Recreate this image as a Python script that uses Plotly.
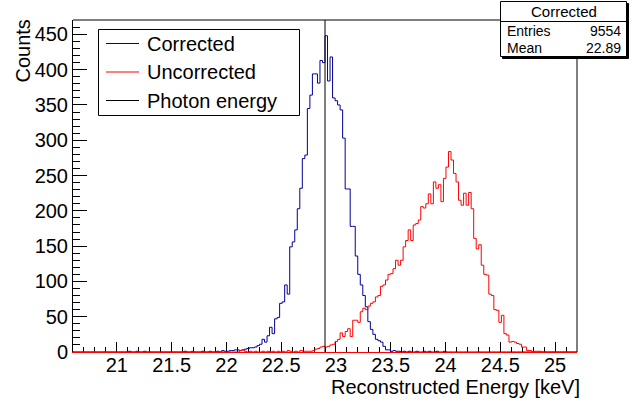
import plotly.graph_objects as go

# ---------------- data ----------------
x_min = 20.6
x_max = 25.2
n_bins = 200
photon_energy = 22.9

corrected = (
    [0] * 20 +
    [0, 0, 1, 0, 0, 1, 0, 0, 1, 0] +
    [0, 0, 0, 0, 0, 0, 0, 0, 0, 0] +
    [0, 0, 0, 0, 1, 0, 0, 1, 0, 0] +
    [0, 1, 0, 0, 1, 0, 0, 1, 0, 2] +
    [1, 1, 2, 2, 3, 3, 2, 3, 4, 5] +
    [6, 6, 7, 9, 11, 18, 14, 23, 35, 26] +
    [47, 49, 69, 71, 95, 82, 149, 156, 173, 203] +
    [232, 274, 279, 345, 364, 394, 394, 381, 413, 410] +
    [448, 384, 418, 360, 356, 350, 343, 303, 231, 231] +
    [178, 178, 136, 110, 95, 80, 64, 43, 32, 25] +
    [18, 16, 14, 8, 3, 3, 1, 2, 1, 1] +
    [0, 1, 0, 1, 0, 0, 1, 0, 0, 1] +
    [0, 1, 0, 0, 1, 0, 0, 1, 0, 0] +
    [0] * 50
)

uncorrected = (
    [0] * 60 +
    [0, 0, 0, 0, 0, 0, 2, 3, 1, 0] +
    [1, 0, 1, 0, 0, 1, 0, 1, 0, 1] +
    [0, 1, 0, 1, 0, 2, 1, 0, 1, 0] +
    [2, 1, 1, 1, 1, 2, 4, 5, 7, 8] +
    [7, 8, 10, 11, 15, 18, 27, 22, 29, 33] +
    [22, 45, 45, 42, 57, 62, 60, 65, 69, 71] +
    [78, 80, 93, 95, 102, 110, 111, 118, 130, 123] +
    [130, 149, 158, 173, 158, 180, 182, 187, 206, 204] +
    [210, 224, 210, 241, 232, 237, 213, 246, 262, 284] +
    [272, 253, 241, 215, 208, 225, 208, 226, 203, 161] +
    [146, 152, 123, 110, 109, 82, 80, 60, 59, 42] +
    [52, 26, 24, 14, 15, 14, 12, 11, 7, 7] +
    [2, 2, 1, 1, 1, 1, 0, 0, 0, 0] +
    [0] * 10
)

x_tick_vals = [21, 21.5, 22, 22.5, 23, 23.5, 24, 24.5, 25]
x_tick_text = ["21", "21.5", "22", "22.5", "23", "23.5", "24", "24.5", "25"]
y_tick_vals = [0, 50, 100, 150, 200, 250, 300, 350, 400, 450]

legend_labels = ["Corrected", "Uncorrected", "Photon energy"]
stats_title = "Corrected"
stats_entries = "9554"
stats_mean = "22.89"

# ---------------- figure ----------------
W, H = 644, 403
L, R, T, B = 73, 67, 20, 51
PW, PH = W - L - R, H - T - B
FONT = "Liberation Sans, Arial, Helvetica, sans-serif"
BLUE = "#000099"
RED = "#ff0000"

width = (x_max - x_min) / n_bins
edges = [x_min + i * width for i in range(n_bins + 1)]
y_max = 1.05 * max(corrected)


def px(x):
    return (x - L) / PW


def py(y):
    return (H - B - y) / PH


fig = go.Figure()
fig.add_trace(go.Scatter(x=edges, y=corrected + [corrected[-1]], mode="lines",
                         line=dict(color=BLUE, width=1, shape="hv"), showlegend=False,
                         hoverinfo="skip"))
fig.add_trace(go.Scatter(x=edges, y=uncorrected + [uncorrected[-1]], mode="lines",
                         line=dict(color=RED, width=1, shape="hv"), showlegend=False,
                         hoverinfo="skip"))
fig.add_trace(go.Scatter(x=[photon_energy, photon_energy], y=[0, y_max], mode="lines",
                         line=dict(color="black", width=1), showlegend=False,
                         hoverinfo="skip"))

shapes = []
# frame top and right
shapes.append(dict(type="line", xref="paper", yref="paper", x0=0, x1=1, y0=1, y1=1,
                   line=dict(color="black", width=1)))
shapes.append(dict(type="line", xref="paper", yref="paper", x0=1, x1=1, y0=0, y1=1,
                   line=dict(color="black", width=1)))

# legend box
shapes.append(dict(type="rect", xref="paper", yref="paper",
                   x0=px(98.5), x1=px(299.5), y0=py(115.5), y1=py(29.5),
                   line=dict(color="black", width=1), fillcolor="white", layer="above"))
leg_colors = [BLUE, RED, "black"]
leg_rows = [43.5, 72, 100.5]
annotations = []
for lab, col, yy in zip(legend_labels, leg_colors, leg_rows):
    shapes.append(dict(type="line", xref="paper", yref="paper",
                       x0=px(106), x1=px(139), y0=py(yy), y1=py(yy),
                       line=dict(color=col, width=1), layer="above"))
    annotations.append(dict(xref="paper", yref="paper", x=px(145), y=py(yy),
                            xanchor="left", yanchor="middle", text=lab, showarrow=False,
                            font=dict(family=FONT, size=20, color="black")))

# stats box
shapes.append(dict(type="rect", xref="paper", yref="paper",
                   x0=px(502.5), x1=px(628.5), y0=py(58.5), y1=py(3.5),
                   line=dict(color="black", width=1), fillcolor="black", layer="above"))
shapes.append(dict(type="rect", xref="paper", yref="paper",
                   x0=px(500.5), x1=px(626.5), y0=py(56.5), y1=py(1.5),
                   line=dict(color="black", width=1), fillcolor="white", layer="above"))
shapes.append(dict(type="line", xref="paper", yref="paper",
                   x0=px(500.5), x1=px(626.5), y0=py(21.5), y1=py(21.5),
                   line=dict(color="black", width=1), layer="above"))
annotations.append(dict(xref="paper", yref="paper", x=px(563.5), y=py(12),
                        xanchor="center", yanchor="middle", text=stats_title, showarrow=False,
                        font=dict(family=FONT, size=15, color="black")))
for lab, val, yy in [("Entries", stats_entries, 31.5), ("Mean", stats_mean, 47.5)]:
    annotations.append(dict(xref="paper", yref="paper", x=px(505), y=py(yy),
                            xanchor="left", yanchor="middle", text=lab, showarrow=False,
                            font=dict(family=FONT, size=14, color="black")))
    annotations.append(dict(xref="paper", yref="paper", x=px(623), y=py(yy),
                            xanchor="right", yanchor="middle", text=val, showarrow=False,
                            font=dict(family=FONT, size=14, color="black")))

# axis titles
annotations.append(dict(xref="paper", yref="paper", x=px(582), y=py(387),
                        xanchor="right", yanchor="middle", text="Reconstructed Energy [keV]",
                        showarrow=False, font=dict(family=FONT, size=20, color="black")))
annotations.append(dict(xref="paper", yref="paper", x=px(23), y=py(18),
                        xanchor="center", yanchor="top", text="Counts", textangle=-90,
                        showarrow=False, font=dict(family=FONT, size=20, color="black")))

fig.update_layout(
    width=W, height=H,
    margin=dict(l=L, r=R, t=T, b=B, pad=0),
    paper_bgcolor="white", plot_bgcolor="white",
    showlegend=False,
    font=dict(family=FONT, size=20, color="black"),
    shapes=shapes, annotations=annotations,
    xaxis=dict(range=[x_min, x_max], showgrid=False, zeroline=False,
               showline=True, linecolor=RED, linewidth=1, layer="below traces",
               ticks="inside", ticklen=10, tickwidth=1, tickcolor="black",
               tickvals=x_tick_vals, ticktext=x_tick_text, ticklabelstandoff=-5,
               tickfont=dict(family=FONT, size=20, color="black"),
               minor=dict(ticks="inside", ticklen=5, dtick=0.1, tick0=21,
                          tickcolor="black", tickwidth=1, showgrid=False)),
    yaxis=dict(range=[0, y_max], showgrid=False, zeroline=False,
               showline=True, linecolor="black", linewidth=1, layer="below traces",
               ticks="inside", ticklen=14, tickwidth=1, tickcolor="black",
               tickvals=y_tick_vals,
               tickfont=dict(family=FONT, size=20, color="black"),
               minor=dict(ticks="inside", ticklen=7, dtick=10, tick0=0,
                          tickcolor="black", tickwidth=1, showgrid=False)),
)

fig.write_html("out.html")
